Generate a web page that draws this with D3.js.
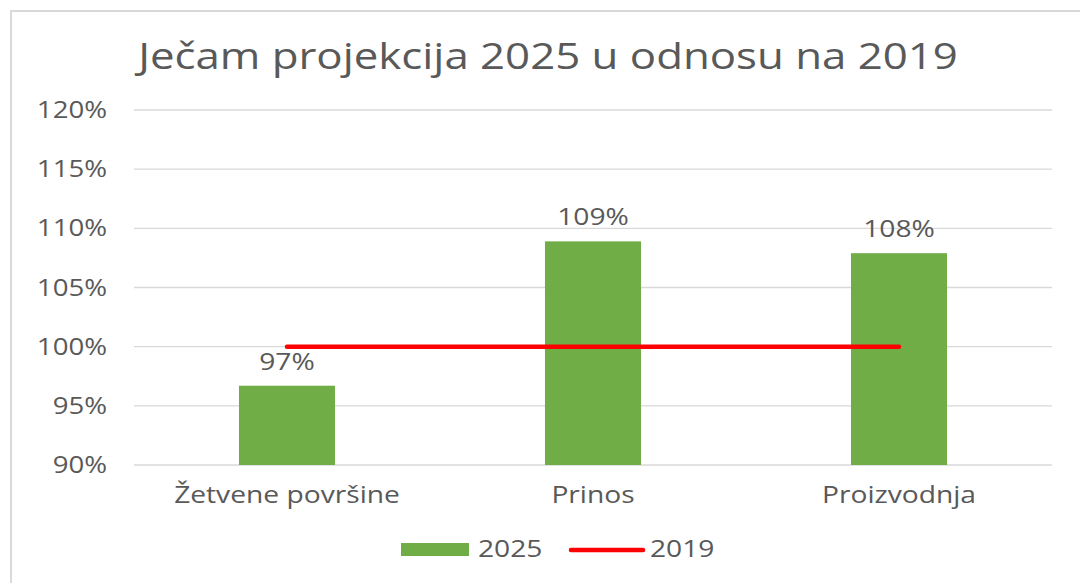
<!DOCTYPE html>
<html>
<head>
<meta charset="utf-8">
<script src="https://cdn.jsdelivr.net/npm/d3@7"></script>
<style>
  body { margin: 0; background: #fff; }
  text { font-family: "Open Sans", sans-serif; fill: #595959; }
</style>
</head>
<body>
<svg id="chart"></svg>
<script>
const title = "Ječam projekcija 2025 u odnosu na 2019";
const categories = ["Žetvene površine", "Prinos", "Proizvodnja"];
const values2025 = [96.7, 108.9, 107.9];
const labels2025 = ["97%", "109%", "108%"];
const values2019 = [100, 100, 100];
const yTicks = [90, 95, 100, 105, 110, 115, 120];

const width = 1080, height = 583;
const margin = {top: 110, right: 28, bottom: 118, left: 134};
const SX = 1.2; // horizontal stretch of the text, the source picture is squeezed wide

const svg = d3.select('#chart')
    .attr('width', width).attr('height', height);

// chart frame
svg.append('path')
    .attr('d', `M11,${height} L11,11 L${width},11`)
    .attr('fill', 'none')
    .attr('stroke', '#d9d9d9')
    .attr('stroke-width', 2);

const x = d3.scaleBand()
    .domain(categories)
    .range([margin.left, width - margin.right])
    .paddingInner(0.686)
    .paddingOuter(0.343);

const y = d3.scaleLinear()
    .domain([90, 120])
    .range([height - margin.bottom, margin.top]);

const stretchText = (sel, size, anchor) => sel
    .attr('font-size', size)
    .attr('text-anchor', anchor);

// gridlines
svg.append('g')
  .selectAll('line')
  .data(yTicks)
  .join('line')
    .attr('x1', margin.left)
    .attr('x2', width - margin.right)
    .attr('y1', d => y(d))
    .attr('y2', d => y(d))
    .attr('stroke', '#d9d9d9')
    .attr('stroke-width', 1.3);

// y labels
svg.append('g')
  .selectAll('text')
  .data(yTicks)
  .join('text')
    .attr('transform', d => `translate(107,${y(d) + 8}) scale(${SX},1)`)
    .call(stretchText, 23, 'end')
    .text(d => d + '%');

// bars
svg.append('g')
  .selectAll('rect')
  .data(values2025)
  .join('rect')
    .attr('x', (d, i) => x(categories[i]))
    .attr('width', x.bandwidth())
    .attr('y', d => y(d))
    .attr('height', d => y(90) - y(d))
    .attr('fill', '#70ad47');

// bar labels
svg.append('g')
  .selectAll('text')
  .data(values2025)
  .join('text')
    .attr('transform', (d, i) => `translate(${x(categories[i]) + x.bandwidth() / 2},${y(d) - 16}) scale(${SX},1)`)
    .call(stretchText, 23.5, 'middle')
    .text((d, i) => labels2025[i]);

// 2019 line
const line = d3.line()
    .x((d, i) => x(categories[i]) + x.bandwidth() / 2)
    .y(d => y(d));

svg.append('path')
    .datum(values2019)
    .attr('d', line)
    .attr('fill', 'none')
    .attr('stroke', '#ff0000')
    .attr('stroke-width', 4.5)
    .attr('stroke-linecap', 'round');

// x labels
svg.append('g')
  .selectAll('text')
  .data(categories)
  .join('text')
    .attr('transform', d => `translate(${x(d) + x.bandwidth() / 2},${height - margin.bottom + 38}) scale(${SX},1)`)
    .call(stretchText, 23.5, 'middle')
    .text(d => d);

// title
svg.append('text')
    .attr('transform', `translate(548,69) scale(${SX},1)`)
    .call(stretchText, 36.5, 'middle')
    .text(title);

// legend
const legend = svg.append('g');
legend.append('rect')
    .attr('x', 401).attr('y', 543)
    .attr('width', 68).attr('height', 13)
    .attr('fill', '#70ad47');
legend.append('text')
    .attr('transform', `translate(478,557) scale(${SX},1)`)
    .call(stretchText, 23.5, 'start')
    .text('2025');
legend.append('line')
    .attr('x1', 571).attr('x2', 643)
    .attr('y1', 550).attr('y2', 550)
    .attr('stroke', '#ff0000')
    .attr('stroke-width', 4.5)
    .attr('stroke-linecap', 'round');
legend.append('text')
    .attr('transform', `translate(650,557) scale(${SX},1)`)
    .call(stretchText, 23.5, 'start')
    .text('2019');
</script>
</body>
</html>
